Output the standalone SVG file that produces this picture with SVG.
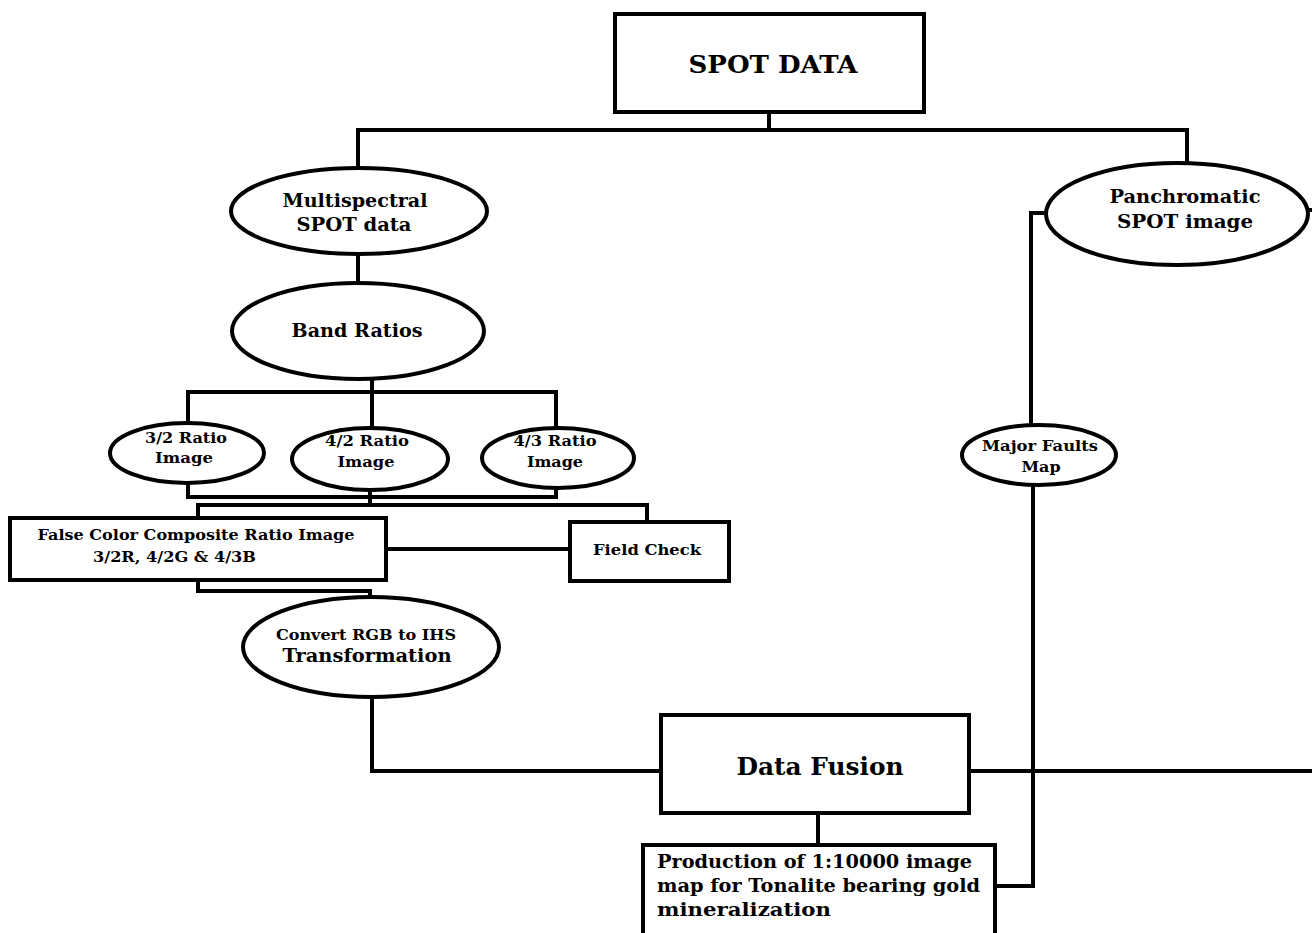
<svg xmlns="http://www.w3.org/2000/svg" width="1312" height="933" viewBox="0 0 1312 933">
<style>
.n{fill:#fff;stroke:#000;stroke-width:4}
.c{fill:none;stroke:#000;stroke-width:4;stroke-linejoin:miter;stroke-linecap:square}
text{font-family:"DejaVu Serif","Liberation Serif",serif;font-weight:bold;fill:#000}
.t{text-anchor:middle}
</style>
<rect width="1312" height="933" fill="#fff"/>
<g id="connectors">
<polyline class="c" points="769,112 769,130"/>
<polyline class="c" points="358,168 358,130 1187,130 1187,163"/>
<polyline class="c" points="358,254 358,283"/>
<polyline class="c" points="372,380 372,392"/>
<polyline class="c" points="188,424 188,392 556,392 556,428"/>
<polyline class="c" points="372,392 372,428"/>
<polyline class="c" points="188,483 188,497 556,497 556,488"/>
<polyline class="c" points="370,490 370,505"/>
<polyline class="c" points="198,518 198,505 647,505 647,522"/>
<polyline class="c" points="386,549 570,549"/>
<polyline class="c" points="198,580 198,591 370,591 370,598"/>
<polyline class="c" points="372,697 372,771 661,771"/>
<polyline class="c" points="969,771 1314,771"/>
<polyline class="c" points="1308,210 1314,210"/>
<polyline class="c" points="1046,213 1031,213 1031,425"/>
<polyline class="c" points="1033,485 1033,886 995,886"/>
<polyline class="c" points="818,813 818,845"/>
</g>
<g id="spot-data">
<rect class="n" x="615" y="14" width="309" height="98"/>
<text class="t" x="773" y="73" font-size="24" textLength="169" lengthAdjust="spacingAndGlyphs">SPOT DATA</text>
</g>
<g id="multispectral">
<ellipse class="n" cx="359" cy="211" rx="128" ry="43"/>
<text class="t" x="355" y="207" font-size="18" textLength="145" lengthAdjust="spacingAndGlyphs">Multispectral</text>
<text class="t" x="354" y="231" font-size="18" textLength="115" lengthAdjust="spacingAndGlyphs">SPOT data</text>
</g>
<g id="band-ratios">
<ellipse class="n" cx="358" cy="331" rx="126" ry="48"/>
<text class="t" x="357" y="337" font-size="18" textLength="131" lengthAdjust="spacingAndGlyphs">Band Ratios</text>
</g>
<g id="ratio-32">
<ellipse class="n" cx="187" cy="453" rx="77" ry="30"/>
<text class="t" x="186" y="443" font-size="15" textLength="82" lengthAdjust="spacingAndGlyphs">3/2 Ratio</text>
<text class="t" x="184" y="463" font-size="15" textLength="58" lengthAdjust="spacingAndGlyphs">Image</text>
</g>
<g id="ratio-42">
<ellipse class="n" cx="370" cy="459" rx="78" ry="31"/>
<text class="t" x="367" y="446" font-size="15" textLength="84" lengthAdjust="spacingAndGlyphs">4/2 Ratio</text>
<text class="t" x="366" y="467" font-size="15" textLength="57" lengthAdjust="spacingAndGlyphs">Image</text>
</g>
<g id="ratio-43">
<ellipse class="n" cx="558" cy="458" rx="76" ry="30"/>
<text class="t" x="555" y="446" font-size="15" textLength="83" lengthAdjust="spacingAndGlyphs">4/3 Ratio</text>
<text class="t" x="555" y="467" font-size="15" textLength="56" lengthAdjust="spacingAndGlyphs">Image</text>
</g>
<g id="fcc">
<rect class="n" x="10" y="518" width="376" height="62"/>
<text class="t" x="196" y="540" font-size="15" textLength="317" lengthAdjust="spacingAndGlyphs">False Color Composite Ratio Image</text>
<text x="93" y="562" font-size="15" textLength="163" lengthAdjust="spacingAndGlyphs">3/2R, 4/2G &amp; 4/3B</text>
</g>
<g id="field-check">
<rect class="n" x="570" y="522" width="159" height="59"/>
<text class="t" x="647" y="555" font-size="15" textLength="108" lengthAdjust="spacingAndGlyphs">Field Check</text>
</g>
<g id="convert">
<ellipse class="n" cx="371" cy="647" rx="128" ry="50"/>
<text class="t" x="366" y="640" font-size="15" textLength="180" lengthAdjust="spacingAndGlyphs">Convert RGB to IHS</text>
<text class="t" x="367" y="662" font-size="18" textLength="169" lengthAdjust="spacingAndGlyphs">Transformation</text>
</g>
<g id="data-fusion">
<rect class="n" x="661" y="715" width="308" height="98"/>
<text class="t" x="820" y="775" font-size="24" textLength="167" lengthAdjust="spacingAndGlyphs">Data Fusion</text>
</g>
<g id="panchromatic">
<ellipse class="n" cx="1177" cy="214" rx="131" ry="51"/>
<text class="t" x="1185" y="203" font-size="18" textLength="151" lengthAdjust="spacingAndGlyphs">Panchromatic</text>
<text class="t" x="1185" y="228" font-size="18" textLength="136" lengthAdjust="spacingAndGlyphs">SPOT image</text>
</g>
<g id="major-faults">
<ellipse class="n" cx="1039" cy="455" rx="77" ry="30"/>
<text class="t" x="1040" y="451" font-size="15" textLength="116" lengthAdjust="spacingAndGlyphs">Major Faults</text>
<text class="t" x="1041" y="472" font-size="15" textLength="39" lengthAdjust="spacingAndGlyphs">Map</text>
</g>
<g id="production">
<rect class="n" x="643" y="845" width="352" height="100"/>
<text x="657" y="868" font-size="19" textLength="315" lengthAdjust="spacingAndGlyphs">Production of 1:10000 image</text>
<text x="657" y="892" font-size="19" textLength="323" lengthAdjust="spacingAndGlyphs">map for Tonalite bearing gold</text>
<text x="657" y="916" font-size="19" textLength="174" lengthAdjust="spacingAndGlyphs">mineralization</text>
</g>
</svg>
